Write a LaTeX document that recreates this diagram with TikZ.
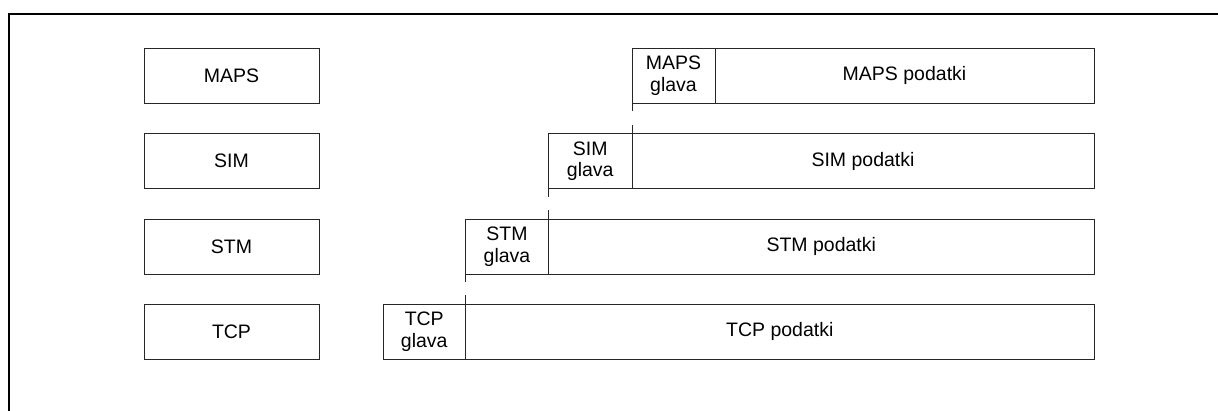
\documentclass[tikz,border=0pt]{standalone}
\usepackage{fontspec}
\setmainfont{Liberation Sans}
\begin{document}
\begin{tikzpicture}[x=1pt,y=-1pt,
  every node/.style={inner sep=0pt,outer sep=0pt,anchor=north west,
    font=\fontsize{19.5}{21.5}\selectfont,align=center},
  layerbox/.style={draw=black!85,line width=1pt,minimum width=175pt,minimum height=55pt},
  hdrbox/.style={draw=black!85,line width=1pt,minimum width=83pt,minimum height=55pt},
  databox/.style={draw=black!85,line width=1pt,minimum height=55pt},
  tick/.style={draw=black!85,line width=1pt}]
\useasboundingbox (0,0) rectangle (1218,410);
% outer frame, open to the right and bottom
\draw[line width=2pt] (9,411) -- (9,14) -- (1219,14);

% protocol layers on the left
\node[layerbox] (lmaps) at (144,48.3) {MAPS};
\node[layerbox] (lsim)  at (144,133.6) {SIM};
\node[layerbox] (lstm)  at (144,219) {STM};
\node[layerbox] (ltcp)  at (144,304.3) {TCP};

% encapsulation: header + payload per layer
\node[hdrbox] (hmaps) at (632,48.3) {MAPS\\glava};
\node[databox,minimum width=1094pt-715pt] (dmaps) at (715,48.3) {MAPS podatki};

\node[hdrbox,minimum width=83.5pt] (hsim) at (548.5,133.6) {SIM\\glava};
\node[databox,minimum width=1094pt-632pt] (dsim) at (632,133.6) {SIM podatki};

\node[hdrbox] (hstm) at (465.5,219) {STM\\glava};
\node[databox,minimum width=1094pt-548.5pt] (dstm) at (548.5,219) {STM podatki};

\node[hdrbox,minimum width=82.5pt] (htcp) at (383,304.3) {TCP\\glava};
\node[databox,minimum width=1094pt-465.5pt] (dtcp) at (465.5,304.3) {TCP podatki};

% alignment ticks between layers
\draw[tick] (hmaps.south west) -- ++(0,8);
\draw[tick] (dsim.north west) -- ++(0,-9);
\draw[tick] (hsim.south west) -- ++(0,8);
\draw[tick] (dstm.north west) -- ++(0,-9);
\draw[tick] (hstm.south west) -- ++(0,8);
\draw[tick] (dtcp.north west) -- ++(0,-9);
\end{tikzpicture}
\end{document}
